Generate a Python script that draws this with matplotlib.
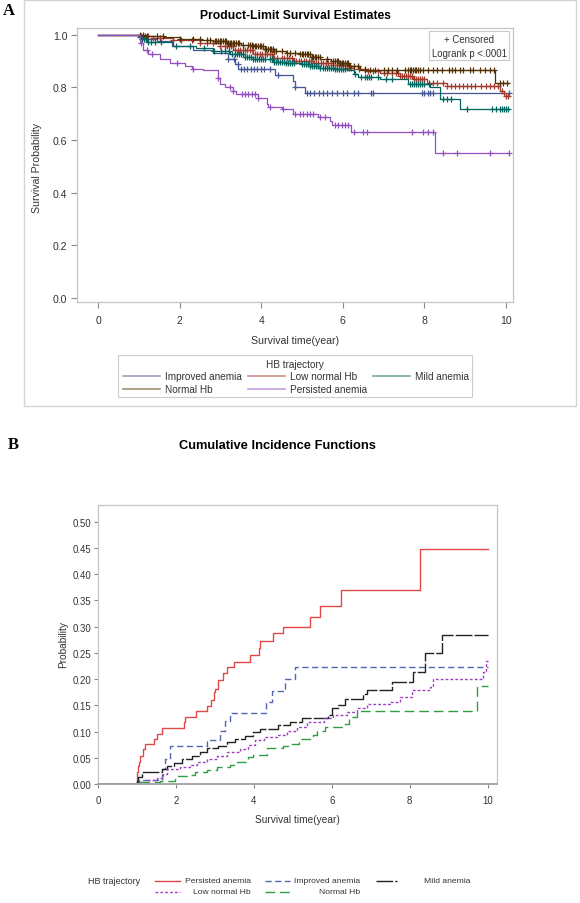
import numpy as np
import matplotlib.pyplot as plt
from matplotlib.lines import Line2D
from matplotlib.patches import Rectangle

plt.rcParams['font.family'] = ['Liberation Sans', 'DejaVu Sans']

# ======================
# Panel A: Kaplan-Meier steps (time in years, survival)
# ======================
groups_a = ["Improved anemia", "Low normal Hb", "Mild anemia", "Normal Hb", "Persisted anemia"]
colors_a = ["#445694", "#A23A2E", "#01665E", "#543005", "#9350C0"]

imp_t = [0, 1.0, 1.05, 1.43, 1.80, 2.33, 2.82, 3.19, 3.35, 3.43, 4.33, 4.78, 4.82, 5.07, 10.06]
imp_s = [1.0, 0.99, 0.985, 0.975, 0.956, 0.941, 0.931, 0.906, 0.887, 0.868, 0.845, 0.824, 0.80, 0.777, 0.777]

low_t = [0, 1.0, 1.35, 1.84, 2.49, 2.98, 3.31, 3.8, 4.29, 4.78, 5.27, 5.76, 6.09, 6.26, 6.58,
         6.91, 7.4, 7.73, 8.05, 8.54, 9.85, 9.95, 10.06]
low_s = [1.0, 0.996, 0.987, 0.98, 0.969, 0.956, 0.94, 0.925, 0.912, 0.899, 0.893, 0.883, 0.874,
         0.868, 0.862, 0.853, 0.843, 0.83, 0.818, 0.803, 0.785, 0.768, 0.768]

mild_t = [0, 1.0, 1.05, 1.19, 1.84, 2.4, 2.82, 3.23, 3.6, 3.8, 4.29, 4.6, 4.95, 5.2, 5.44, 5.8,
          6.09, 6.26, 6.38, 6.91, 7.6, 8.14, 8.38, 8.86, 10.06]
mild_s = [1.0, 0.99, 0.984, 0.971, 0.956, 0.95, 0.937, 0.925, 0.915, 0.906, 0.896, 0.892, 0.887,
          0.88, 0.874, 0.87, 0.866, 0.849, 0.84, 0.83, 0.811, 0.80, 0.755, 0.717, 0.717]

nor_t = [0, 1.0, 1.19, 1.6, 2.0, 2.5, 2.82, 3.15, 3.5, 3.8, 4.05, 4.29, 4.6, 4.95, 5.2, 5.44,
         5.7, 5.93, 6.15, 6.42, 9.72, 10.06]
nor_s = [1.0, 0.997, 0.994, 0.99, 0.984, 0.98, 0.975, 0.969, 0.962, 0.956, 0.947, 0.937, 0.931,
         0.925, 0.916, 0.908, 0.9, 0.893, 0.882, 0.866, 0.816, 0.816]

per_t = [0, 1.02, 1.10, 1.23, 1.51, 1.76, 2.13, 2.29, 2.58, 2.94, 2.98, 3.11, 3.31, 3.39, 3.92,
         4.13, 4.17, 4.50, 4.78, 5.40, 5.68, 5.72, 6.21, 8.26, 10.06]
per_s = [1.0, 0.969, 0.943, 0.925, 0.906, 0.893, 0.880, 0.868, 0.864, 0.836, 0.811, 0.80, 0.786,
         0.774, 0.761, 0.736, 0.726, 0.717, 0.698, 0.689, 0.673, 0.657, 0.629, 0.551, 0.551]

# censoring times
imp_c = [3.19, 3.33, 3.42, 3.5, 3.58, 3.66, 3.74, 3.82, 3.90, 3.98, 4.06, 4.20, 4.42, 4.82, 5.11,
         5.19, 5.3, 5.42, 5.5, 5.6, 5.73, 5.85, 6.0, 6.1, 6.26, 6.38, 6.7, 6.74, 7.93, 8.0, 8.09,
         8.13, 8.2, 10.06]
low_c = [1.06, 1.15, 1.23, 1.35, 1.51, 1.84, 2.04, 2.29, 2.49, 2.66, 2.82, 2.98,
         3.1, 3.15, 3.2, 3.25, 3.3, 3.36, 3.42, 3.48, 3.54, 3.6, 3.66, 3.72, 3.78, 3.84, 3.9,
         3.96, 4.02, 4.08, 4.14, 4.2, 4.26, 4.32, 4.38, 4.5, 4.56, 4.62, 4.68, 4.74, 4.8, 4.86,
         4.92, 4.98, 5.04, 5.1, 5.16, 5.22, 5.28, 5.34, 5.4, 5.46, 5.52, 5.58, 5.64, 5.7, 5.76,
         5.85, 5.9, 5.95, 6.0, 6.05, 6.1, 6.15, 6.2, 6.4, 6.54, 6.62, 6.74, 6.87, 7.0, 7.08,
         7.2, 7.3, 7.35, 7.4, 7.45, 7.5, 7.55, 7.6, 7.65, 7.7, 7.75, 7.8, 7.85, 7.9, 7.95, 8.0,
         8.1, 8.2, 8.3, 8.45, 8.55, 8.65, 8.75, 8.85, 8.95, 9.05, 9.15, 9.25, 9.38, 9.5, 9.6,
         9.7, 9.8, 9.9, 10.0, 10.04]
mild_c = [1.03, 1.08, 1.12, 1.17, 1.22, 1.3, 1.4, 1.55, 1.9, 2.25, 2.6, 2.85, 3.0, 3.1, 3.2,
          3.28, 3.35, 3.4, 3.45, 3.5, 3.55, 3.6, 3.65, 3.7, 3.75, 3.8, 3.85, 3.9, 3.95, 4.0,
          4.05, 4.1, 4.2, 4.25, 4.3, 4.35, 4.4, 4.45, 4.5, 4.55, 4.6, 4.65, 4.7, 4.75, 4.8,
          5.0, 5.05, 5.1, 5.15, 5.2, 5.25, 5.3, 5.35, 5.4, 5.45, 5.5, 5.55, 5.6, 5.65, 5.7,
          5.75, 5.8, 5.85, 5.9, 5.95, 6.0, 6.05, 6.3, 6.45, 6.55, 6.6, 6.65, 6.7, 6.85, 7.05,
          7.2, 7.65, 7.7, 7.75, 7.8, 7.85, 7.9, 7.95, 8.0, 8.1, 8.45, 8.55, 8.65, 9.05, 9.65,
          9.75, 9.85, 9.9, 9.95, 10.0, 10.05]
nor_c = [1.02, 1.10, 1.19, 1.43, 1.59, 2.00, 2.33, 2.49, 2.66, 2.74, 2.86, 2.9, 2.94, 2.98,
         3.02, 3.06, 3.1, 3.14, 3.18, 3.22, 3.26, 3.3, 3.34, 3.38, 3.42, 3.46, 3.56, 3.68, 3.72,
         3.76, 3.8, 3.84, 3.88, 3.92, 3.96, 4.0, 4.04, 4.08, 4.12, 4.16, 4.2, 4.24, 4.28, 4.32,
         4.36, 4.5, 4.62, 4.7, 4.82, 4.95, 4.99, 5.03, 5.07, 5.11, 5.15, 5.19, 5.23, 5.27,
         5.31, 5.35, 5.39, 5.43, 5.6, 5.76, 5.81, 5.85, 5.89, 5.93, 5.97, 6.01, 6.05, 6.09,
         6.13, 6.17, 6.26, 6.38, 6.54, 6.66, 6.79, 7.0, 7.11, 7.2, 7.32, 7.52, 7.6, 7.64, 7.68,
         7.72, 7.76, 7.8, 7.84, 7.88, 7.97, 8.09, 8.22, 8.3, 8.42, 8.59, 8.67, 8.75, 8.87,
         8.95, 9.12, 9.2, 9.36, 9.48, 9.61, 9.71, 9.85, 9.93, 10.03]
per_c = [1.06, 1.19, 1.31, 1.92, 2.33, 2.94, 3.23, 3.31, 3.52, 3.60, 3.68, 3.76, 3.84, 3.92,
         4.21, 4.54, 4.82, 4.95, 5.03, 5.11, 5.19, 5.27, 5.44, 5.56, 5.81, 5.89, 5.97, 6.05,
         6.13, 6.26, 6.50, 6.58, 7.69, 7.97, 8.09, 8.22, 8.46, 8.79, 9.61, 10.06]

steps_a = [(imp_t, imp_s, imp_c), (low_t, low_s, low_c), (mild_t, mild_s, mild_c),
           (nor_t, nor_s, nor_c), (per_t, per_s, per_c)]

# ======================
# Panel B: cumulative incidence
# ======================
per_b_t = [0, 1.0, 1.02, 1.04, 1.09, 1.15, 1.2, 1.43, 1.51, 1.64, 2.2, 2.23, 2.52, 2.81, 2.91,
           2.97, 3.01, 3.09, 3.2, 3.31, 3.48, 3.9, 4.14, 4.16, 4.5, 4.76, 5.43, 5.7, 6.23, 8.26, 10.0]
per_b_p = [0, 0.022, 0.035, 0.042, 0.054, 0.067, 0.077, 0.086, 0.096, 0.107, 0.118, 0.128, 0.139,
           0.148, 0.16, 0.176, 0.182, 0.198, 0.211, 0.224, 0.233, 0.246, 0.26, 0.272, 0.288, 0.30,
           0.318, 0.34, 0.369, 0.449, 0.449]

imp_b_t = [0, 1.0, 1.05, 1.64, 1.73, 1.85, 2.79, 3.14, 3.26, 3.39, 4.31, 4.46, 4.8, 5.06, 10.0]
imp_b_p = [0, 0.003, 0.008, 0.029, 0.048, 0.072, 0.084, 0.102, 0.121, 0.135, 0.156, 0.178,
           0.201, 0.224, 0.224]

mild_b_t = [0, 1.0, 1.03, 1.13, 1.64, 1.77, 1.94, 2.15, 2.41, 2.61, 2.79, 3.09, 3.31, 3.52,
            3.78, 3.99, 4.16, 4.63, 4.93, 5.23, 5.91, 6.0, 6.17, 6.34, 6.81, 6.9, 7.54, 8.09,
            8.39, 8.83, 10.0]
mild_b_p = [0, 0.005, 0.013, 0.022, 0.029, 0.034, 0.04, 0.048, 0.054, 0.061, 0.068, 0.072,
            0.08, 0.086, 0.091, 0.099, 0.105, 0.112, 0.118, 0.125, 0.131, 0.144, 0.151, 0.163,
            0.172, 0.179, 0.195, 0.214, 0.249, 0.284, 0.284]

low_b_t = [0, 1.0, 1.05, 1.26, 1.51, 1.68, 1.77, 2.11, 2.37, 2.54, 2.79, 3.05, 3.31, 3.65,
           3.86, 4.03, 4.25, 4.59, 4.85, 5.1, 5.36, 5.79, 6.04, 6.38, 6.64, 6.9, 7.5, 7.75,
           8.05, 8.52, 8.61, 9.89, 9.97, 10.0]
low_b_p = [0, 0.002, 0.004, 0.008, 0.011, 0.019, 0.029, 0.032, 0.036, 0.042, 0.048, 0.054,
           0.061, 0.067, 0.075, 0.083, 0.089, 0.094, 0.102, 0.109, 0.118, 0.125, 0.131, 0.137,
           0.144, 0.153, 0.156, 0.166, 0.179, 0.185, 0.20, 0.214, 0.235, 0.235]

nor_b_t = [0, 1.0, 1.05, 1.6, 1.98, 2.28, 2.5, 2.79, 3.05, 3.39, 3.48, 3.86, 3.99, 4.33, 4.76,
           4.93, 5.15, 5.53, 5.62, 5.83, 6.34, 6.43, 6.64, 6.68, 9.72, 10.0]
nor_b_p = [0, 0.002, 0.004, 0.006, 0.015, 0.017, 0.022, 0.027, 0.032, 0.036, 0.042, 0.051,
           0.056, 0.068, 0.073, 0.077, 0.086, 0.094, 0.102, 0.109, 0.115, 0.128, 0.137, 0.14,
           0.187, 0.187]

groups_b = ["Persisted anemia", "Improved anemia", "Mild anemia", "Low normal Hb", "Normal Hb"]
curves_b = [(per_b_t, per_b_p), (imp_b_t, imp_b_p), (mild_b_t, mild_b_p),
            (low_b_t, low_b_p), (nor_b_t, nor_b_p)]
colors_b = ["#E24848", "#5566B0", "#222222", "#A040C0", "#2E9E3E"]
dashes_b = [None, (4.5, 2.5), (12, 1.5), (2, 1.5), (7, 3.5)]

# ======================
# Figure
# ======================
W, H = 580, 904
fig = plt.figure(figsize=(W / 100, H / 100), dpi=100)


def box(left, top, right, bottom):
    return [left / W, 1 - bottom / H, (right - left) / W, (bottom - top) / H]


def fx(x):
    return x / W


def fy(y):
    return 1 - y / H


grid_c = "#C4C4C4"
txt_c = "#333333"

# ---- Panel A ----
fig.patches.append(Rectangle((fx(24), fy(407)), 552 / W, 406 / H, fill=False,
                             ec="#D4D4D4", lw=1.0, transform=fig.transFigure))
axA = fig.add_axes(box(77, 29, 513, 303))

for (t, s, c), col in zip(steps_a, colors_a):
    t = np.array(t)
    s = np.array(s)
    axA.step(t, s, where="post", color=col, lw=0.9)
    c = np.array(c)
    idx = np.searchsorted(t, c, side="right") - 1
    axA.plot(c, s[idx], ls="none", marker="+", ms=5, mew=0.9, color=col)

axA.set_xlim(-0.52, 10.17)
axA.set_ylim(-0.015, 1.025)
axA.set_xticks(range(0, 11, 2))
axA.set_yticks(np.arange(0, 1.01, 0.2))
axA.set_yticklabels([f"{v:.1f}" for v in np.arange(0, 1.01, 0.2)])
for sp in axA.spines.values():
    sp.set_color(grid_c)
    sp.set_linewidth(0.9)
axA.tick_params(length=4, width=0.8, color="#888888", labelsize=7.6, labelcolor=txt_c, pad=3)
axA.tick_params(axis="x", pad=5)

fig.text(fx(3), fy(11), "A", family="Liberation Serif", weight="bold", size=12, va="center")
fig.text(fx(295), fy(16), "Product-Limit Survival Estimates", ha="center", va="center",
         weight="bold", size=8.7)
fig.text(fx(37), fy(168), "Survival Probability", rotation=90, ha="center", va="center",
         size=7.6, color=txt_c)
fig.text(fx(295), fy(341), "Survival time(year)", ha="center", va="center", size=7.6, color=txt_c)

# censor / logrank inset
fig.patches.append(Rectangle((fx(429), fy(61)), 80 / W, 29 / H, fill=True, fc="white",
                             ec="#C8C8C8", lw=0.8, transform=fig.transFigure, zorder=5))
fig.text(fx(469), fy(40), "+ Censored", ha="center", va="center", size=6.9, color=txt_c, zorder=6)
fig.text(fx(469), fy(54), "Logrank p <.0001", ha="center", va="center", size=6.9, color=txt_c,
         zorder=6)

# legend A
fig.patches.append(Rectangle((fx(118), fy(398)), 354 / W, 42 / H, fill=False,
                             ec="#CCCCCC", lw=0.8, transform=fig.transFigure))
fig.text(fx(295), fy(365), "HB trajectory", ha="center", va="center", size=7.2, color=txt_c)
col_x = [123, 248, 373]
row_y = [377, 390]
for i, (name, col) in enumerate(zip(groups_a, colors_a)):
    x0 = col_x[i % 3]
    y0 = row_y[i // 3]
    fig.lines.append(Line2D([fx(x0), fx(x0 + 37)], [fy(y0), fy(y0)], color=col, alpha=0.55,
                            lw=1.2, transform=fig.transFigure))
    fig.text(fx(x0 + 42), fy(y0), name, ha="left", va="center", size=7.2, color=txt_c)

# ---- Panel B ----
axB = fig.add_axes(box(98, 506, 497, 785))
for (t, p), col, dsh in zip(curves_b, colors_b, dashes_b):
    line, = axB.step(t, p, where="post", color=col, lw=1.0)
    if dsh is not None:
        line.set_dashes(dsh)

axB.set_xlim(0, 10.24)
axB.set_ylim(0, 0.532)
axB.set_xticks(range(0, 11, 2))
yt = np.arange(0, 0.501, 0.05)
axB.set_yticks(yt)
axB.set_yticklabels([f"{v:.2f}" for v in yt])
for name, sp in axB.spines.items():
    sp.set_color(grid_c)
    sp.set_linewidth(0.9)
axB.spines["bottom"].set_color("#A0A0A0")
axB.spines["bottom"].set_linewidth(1.3)
axB.tick_params(length=3, width=0.8, color="#888888", labelsize=6.9, labelcolor=txt_c, pad=2)
axB.tick_params(axis="x", pad=5)

fig.text(fx(8), fy(445), "B", family="Liberation Serif", weight="bold", size=12, va="center")
fig.text(fx(277), fy(446), "Cumulative Incidence Functions", ha="center", va="center",
         weight="bold", size=9.3)
fig.text(fx(63), fy(645), "Probability", rotation=90, ha="center", va="center", size=7.3,
         color=txt_c)
fig.text(fx(297), fy(820), "Survival time(year)", ha="center", va="center", size=7.3, color=txt_c)

# legend B
fig.text(fx(88), fy(882), "HB trajectory", ha="left", va="center", size=6.5, color=txt_c)
line_x = [155, 265, 376]
line_len = [25, 25, 21]
text_end = [251, 360, 470]
row_b = [882, 893]
for i, (name, col, dsh) in enumerate(zip(groups_b, colors_b, dashes_b)):
    c = i % 3
    y0 = row_b[i // 3]
    ln = Line2D([fx(line_x[c]), fx(line_x[c] + line_len[c])], [fy(y0), fy(y0)], color=col,
                lw=1.0, transform=fig.transFigure)
    if dsh is not None:
        ln.set_dashes(dsh)
    fig.lines.append(ln)
    fig.text(fx(text_end[c]), fy(y0), name, ha="right", va="center", size=6.1, color=txt_c)

fig.savefig("out.png", dpi=100)
